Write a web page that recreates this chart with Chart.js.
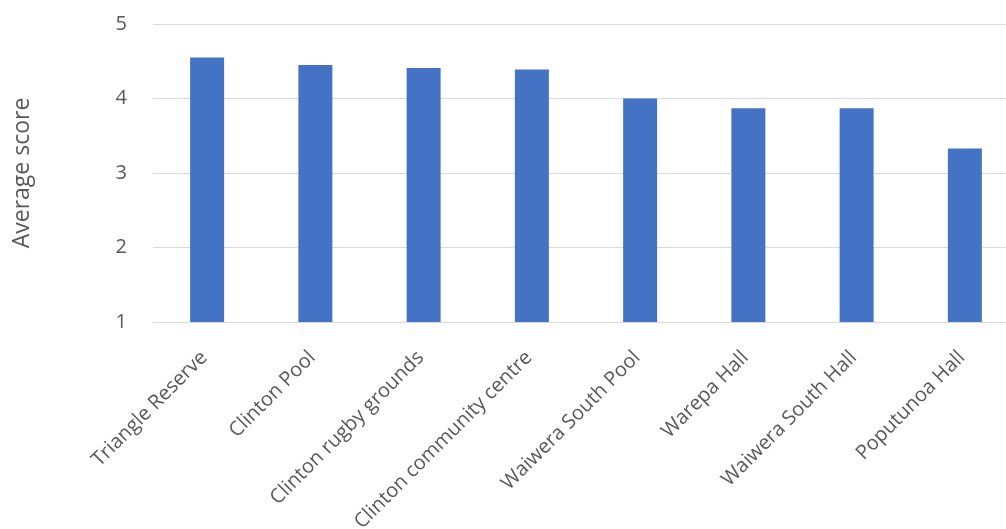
<!DOCTYPE html>
<html>
<head>
<meta charset="utf-8">
<script src="https://cdn.jsdelivr.net/npm/chart.js@4"></script>
<style>
html,body{margin:0;padding:0;background:#fff;overflow:hidden;}
#wrap{width:1006px;height:529px;overflow:hidden;position:relative;}
canvas{display:block;}
</style>
</head>
<body>
<div id="wrap"><canvas id="c" width="1021" height="529"></canvas></div>
<script>
const categories = ["Triangle Reserve","Clinton Pool","Clinton rugby grounds","Clinton community centre","Waiwera South Pool","Warepa Hall","Waiwera South Hall","Poputunoa Hall"];
const averageScores = [4.55, 4.45, 4.41, 4.39, 4.00, 3.87, 3.87, 3.33];
const yTicks = [1, 2, 3, 4, 5];
const yTitle = "Average score";

const FONT = "'Open Sans', Calibri, sans-serif";
new Chart(document.getElementById('c'), {
  type: 'bar',
  data: {
    labels: categories,
    datasets: [{
      data: averageScores,
      backgroundColor: '#4472C4',
      borderWidth: 0,
      barPercentage: 0.314,
      categoryPercentage: 1
    }]
  },
  options: {
    responsive: false,
    animation: false,
    devicePixelRatio: 1,
    layout: { padding: { top: 24, right: 2, left: 0, bottom: 0 } },
    plugins: { legend: { display: false }, tooltip: { enabled: false } },
    scales: {
      x: {
        grid: { display: false, drawTicks: false },
        border: { display: true, color: '#d9d9d9', width: 1 },
        ticks: {
          color: '#595959',
          font: { family: FONT, size: 20 },
          maxRotation: 45, minRotation: 45,
          autoSkip: false,
          padding: 24,
          labelOffset: -3
        },
        afterFit: (s) => { s.height = 207; s.paddingRight = 0; }
      },
      y: {
        min: yTicks[0], max: yTicks[yTicks.length - 1],
        afterBuildTicks: (s) => { s.ticks = yTicks.map(v => ({ value: v })); },
        grid: { color: '#d9d9d9', lineWidth: 1, drawTicks: false },
        border: { display: false },
        ticks: {
          color: '#595959',
          font: { family: FONT, size: 20 },
          padding: 26
        },
        title: {
          display: true,
          text: yTitle,
          color: '#595959',
          font: { family: FONT, size: 23 },
          padding: { top: 9, bottom: 0 }
        },
        afterFit: (s) => { s.width = 153; s.paddingTop = 0; s.paddingBottom = 0; }
      }
    }
  }
});
</script>
</body>
</html>
